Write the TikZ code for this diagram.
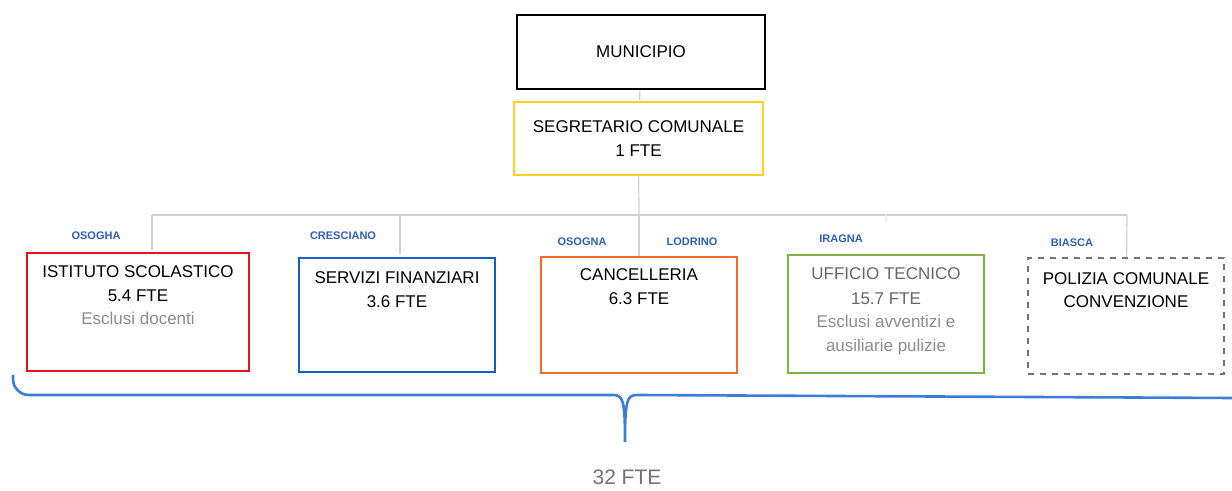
\documentclass[tikz,border=0pt]{standalone}
\usepackage{fontspec}
\setmainfont{Liberation Sans}
\usetikzlibrary{positioning}

\definecolor{orgred}{HTML}{E3141B}
\definecolor{orgblue}{HTML}{1660C4}
\definecolor{orgorange}{HTML}{F36C2B}
\definecolor{orggreen}{HTML}{7CB342}
\definecolor{orgyellow}{HTML}{FFD21F}
\definecolor{orgtag}{HTML}{2F5DB8}
\definecolor{orgbrace}{HTML}{3C7DD9}
\definecolor{orgline}{HTML}{D0D0D0}

\tikzset{
  unit/.style={draw,rectangle,line width=1.4pt,minimum width=98pt,minimum height=58pt,inner sep=0pt},
  txt/.style={text=black,anchor=base,font=\fontsize{8.5}{10}\selectfont,inner sep=0pt},
  note/.style={txt,text=black!45},
  tag/.style={text=orgtag,anchor=base,font=\fontsize{5.5}{6}\selectfont\bfseries,inner sep=0pt},
  link/.style={draw=orgline,line width=0.6pt}
}

\begin{document}
\begin{tikzpicture}[x=0.5pt,y=-0.5pt]
\useasboundingbox (0,0) rectangle (1232,491);

% top of the chart
\node[unit,draw=black,minimum width=124pt,minimum height=37pt] (muni) at (641,52) {};
\node[unit,draw=orgyellow,minimum width=124.5pt,minimum height=36.5pt] (segr) at (638.5,138.5) {};
\path (641,58) node[txt] {MUNICIPIO};
\path (638.5,133) node[txt] {SEGRETARIO COMUNALE};
\path (638.5,157) node[txt] {1 FTE};

% offices
\node[unit,draw=orgred,minimum width=111pt,minimum height=59pt] (ist) at (138,312) {};
\node[unit,draw=orgblue,minimum height=57pt] (serv) at (397,315) {};
\node[unit,draw=orgorange] (canc) at (639,315) {};
\node[unit,draw=orggreen,minimum height=59pt] (uff) at (886,314) {};
\node[unit,draw=black!55,dashed,line width=1.2pt] (pol) at (1126,316) {};

\path (138,278) node[txt] {ISTITUTO SCOLASTICO};
\path (138,302) node[txt] {5.4 FTE};
\path (138,325) node[note] {Esclusi docenti};
\path (397,284) node[txt] {SERVIZI FINANZIARI};
\path (397,308) node[txt] {3.6 FTE};
\path (639,281) node[txt] {CANCELLERIA};
\path (639,305) node[txt] {6.3 FTE};
\path (886,280) node[note,text=black!60] {UFFICIO TECNICO};
\path (886,305) node[note,text=black!60] {15.7 FTE};
\path (886,328) node[note] {Esclusi avventizi e};
\path (886,352) node[note] {ausiliarie pulizie};
\path (1126,285) node[txt] {POLIZIA COMUNALE};
\path (1126,308) node[txt] {CONVENZIONE};

% places
\path (96,240) node[tag] {OSOGHA};
\path (343,240) node[tag] {CRESCIANO};
\path (582,246) node[tag] {OSOGNA};
\path (692,246) node[tag] {LODRINO};
\path (841,243) node[tag] {IRAGNA};
\path (1072,247) node[tag] {BIASCA};

% connectors
\coordinate (bus) at (639,215);
\coordinate (busL) at (152,215);
\coordinate (busR) at (1127,215);
\draw[link] (muni) -- (segr);
\draw[link] (segr) -- (bus);
\draw[link] (busL) -- (busR);
\draw[link] (busL) -- (152,250);
\draw[link] (400,215) -- (400,254);
\draw[link] (bus) -- (canc);
\draw[link,draw=orgline!40] (886,215) -- (886,222);
\draw[link] (busR) -- (pol);

% brace
\draw[orgbrace,line width=1.3pt,rounded corners=8pt] (13,375) -- (13,395) -- (300,395);
\draw[orgbrace,line width=1.3pt] (300,395) -- (613,395)
  .. controls (623,395) and (625,400) .. (625,442)
  .. controls (625,400) and (627,395) .. (637,395) -- (1232,398);
\path (627,485) node[anchor=base,text=black!55,font=\fontsize{10.5}{12}\selectfont] {32 FTE};

\end{tikzpicture}
\end{document}
